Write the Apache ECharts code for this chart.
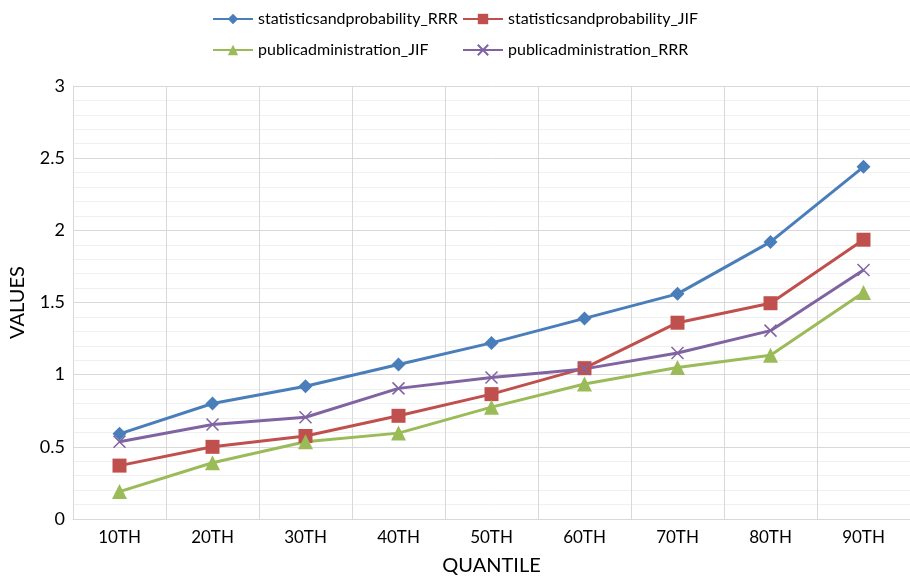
<!DOCTYPE html>
<html>
<head>
<meta charset="utf-8">
<script src="https://cdn.jsdelivr.net/npm/echarts@6/dist/echarts.min.js"></script>
<style>html,body{margin:0;padding:0;background:#fff;}#c{width:910px;height:577px;}</style>
</head>
<body>
<div id="c"></div>
<script>
const categories = ['10TH','20TH','30TH','40TH','50TH','60TH','70TH','80TH','90TH'];
const statsRRR = [0.59, 0.80, 0.92, 1.07, 1.22, 1.39, 1.56, 1.92, 2.44];
const statsJIF = [0.37, 0.50, 0.575, 0.715, 0.865, 1.045, 1.36, 1.495, 1.935];
const pubJIF   = [0.19, 0.39, 0.535, 0.595, 0.775, 0.935, 1.05, 1.135, 1.57];
const pubRRR   = [0.535, 0.655, 0.705, 0.905, 0.98, 1.04, 1.15, 1.305, 1.725];
const yTicks = [0, 0.5, 1, 1.5, 2, 2.5, 3];

const FONT = 'Lato';
const chart = echarts.init(document.getElementById('c'));
const xPath = 'path://M0,0 L10,10 M10,0 L0,10';
function mk(name, data, color, symbol, size, extra) {
  return Object.assign({
    name, type: 'line', data, symbol, symbolSize: size,
    lineStyle: { color, width: 3 },
    itemStyle: { color },
    emphasis: { disabled: true }
  }, extra || {});
}
const legendText = { fontFamily: FONT, fontSize: 16, color: '#000' };
function lg(name, left, top) {
  return { data: [name], left, top, itemWidth: 40, itemHeight: 13, textStyle: legendText };
}
chart.setOption({
  animation: false,
  textStyle: { fontFamily: FONT },
  legend: [
    lg('statisticsandprobability_RRR', 207, 6),
    lg('statisticsandprobability_JIF', 457, 6),
    lg('publicadministration_JIF', 207, 37),
    lg('publicadministration_RRR', 457, 37)
  ],
  grid: { left: 73, right: 0, top: 86, bottom: 58, outerBoundsMode: 'none', containLabel: false },
  xAxis: {
    type: 'category', data: categories, boundaryGap: true,
    name: 'QUANTILE', nameLocation: 'middle', nameGap: 37,
    nameTextStyle: { fontFamily: FONT, fontSize: 20, color: '#000' },
    axisLine: { lineStyle: { color: '#d9d9d9', width: 1 } },
    axisTick: { show: false },
    axisLabel: { fontFamily: FONT, fontSize: 17, color: '#000', margin: 10, interval: 0 },
    splitLine: { show: true, interval: 0, lineStyle: { color: '#d9d9d9', width: 1 } }
  },
  yAxis: {
    type: 'value', min: 0, max: 3, interval: 0.5,
    name: 'VALUES', nameLocation: 'middle', nameGap: 45,
    nameTextStyle: { fontFamily: FONT, fontSize: 20, color: '#000' },
    axisLine: { show: true, lineStyle: { color: '#d9d9d9', width: 1 } },
    axisTick: { show: false },
    minorTick: { show: false, splitNumber: 5 },
    minorSplitLine: { show: true, lineStyle: { color: '#f0f0f0', width: 1 } },
    axisLabel: { fontFamily: FONT, fontSize: 18, color: '#000', margin: 8,
      formatter: v => yTicks.includes(v) ? String(v) : '' },
    splitLine: { show: true, lineStyle: { color: '#d9d9d9', width: 1 } }
  },
  series: [
    mk('statisticsandprobability_RRR', statsRRR, '#4a7ebb', 'diamond', 14),
    mk('statisticsandprobability_JIF', statsJIF, '#c0504d', 'rect', 14),
    mk('publicadministration_JIF', pubJIF, '#9bbb59', 'triangle', 15),
    mk('publicadministration_RRR', pubRRR, '#8064a2', xPath, 12,
      { itemStyle: { color: '#8064a2', borderColor: '#8064a2', borderWidth: 1.5 } })
  ]
});
</script>
</body>
</html>
